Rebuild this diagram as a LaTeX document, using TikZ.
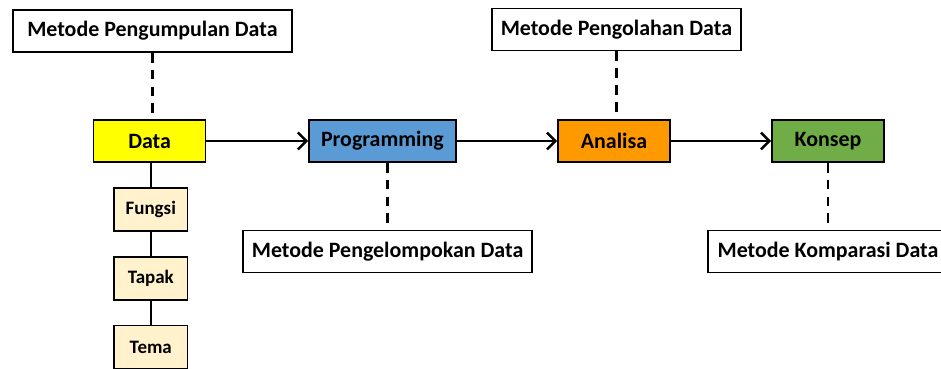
\documentclass[tikz,border=0pt]{standalone}
\usepackage{fontspec}
\setmainfont{Carlito}
\usetikzlibrary{arrows.meta}

\tikzstyle{tahap} = [rectangle, draw, line width=1.1pt, font=\bfseries\fontsize{15.6}{18}\selectfont,
    minimum width=2.8cm, minimum height=1.05cm, inner sep=0pt]
\tikzstyle{metode} = [rectangle, draw, fill=white, line width=1.1pt, font=\bfseries\fontsize{15.6}{18}\selectfont,
    minimum height=1.05cm, inner sep=0pt]
\tikzstyle{aspek} = [rectangle, draw, line width=1.1pt,
    font=\bfseries\fontsize{13.5}{16}\selectfont, minimum width=1.83cm, minimum height=1.075cm, inner sep=0pt]
\tikzstyle{alur} = [line width=1.8pt, -{Straight Barb[length=6pt,width=12pt,line width=1.8pt]}]
\tikzstyle{garis} = [line width=1.8pt, dash pattern=on 7pt off 5pt]

\definecolor{kuning}{HTML}{FFFF00}
\definecolor{biru}{HTML}{5B9BD5}
\definecolor{oranye}{HTML}{FF9900}
\definecolor{hijau}{HTML}{70AD47}
\definecolor{krem}{HTML}{FFF2CC}

\begin{document}
\begin{tikzpicture}
	\useasboundingbox (0,0) rectangle (23.525,9.2);
	\clip (0,0) rectangle (23.525,9.2);
	% tahapan utama
	\node [tahap, fill=kuning] (data) at (3.74,5.675) {Data};
	\node [tahap, fill=biru, minimum width=3.675cm] (prog) at (9.56,5.675) {Programming};
	\node [tahap, fill=oranye] (analisa) at (15.35,5.675) {Analisa};
	\node [tahap, fill=hijau] (konsep) at (20.7,5.675) {Konsep};
	%
	\node [metode, minimum width=6.975cm] (kumpul) at (3.81,8.425) {Metode Pengumpulan Data};
	\node [metode, minimum width=7.225cm] (kelompok) at (9.69,2.91) {Metode Pengelompokan Data};
	\node [metode, minimum width=6.225cm] (olah) at (15.41,8.46) {Metode Pengolahan Data};
	\node [metode, minimum width=6cm] (banding) at (20.7,2.91) {Metode Komparasi Data};
	%
	\node [aspek, fill=krem] (fungsi) at (3.77,3.96) {Fungsi};
	\node [aspek, fill=krem] (tapak) at (3.77,2.24) {Tapak};
	\node [aspek, fill=krem] (tema) at (3.77,0.52) {Tema};
	% alur
	\draw [alur] (data) -- (prog);
	\draw [alur] (prog) -- (analisa);
	\draw [alur] (analisa) -- (konsep);
	%
	\draw [garis] (kumpul) -- (kumpul |- data.north);
	\draw [garis] (prog.south -| kelompok) -- (kelompok);
	\draw [garis] (olah) -- (olah |- analisa.north);
	\draw [garis] (konsep) -- (banding);
	%
	\draw [line width=1.8pt] (data.south -| fungsi) -- (fungsi);
	\draw [line width=1.8pt] (fungsi) -- (tapak);
	\draw [line width=1.8pt] (tapak) -- (tema);
\end{tikzpicture}
\end{document}
